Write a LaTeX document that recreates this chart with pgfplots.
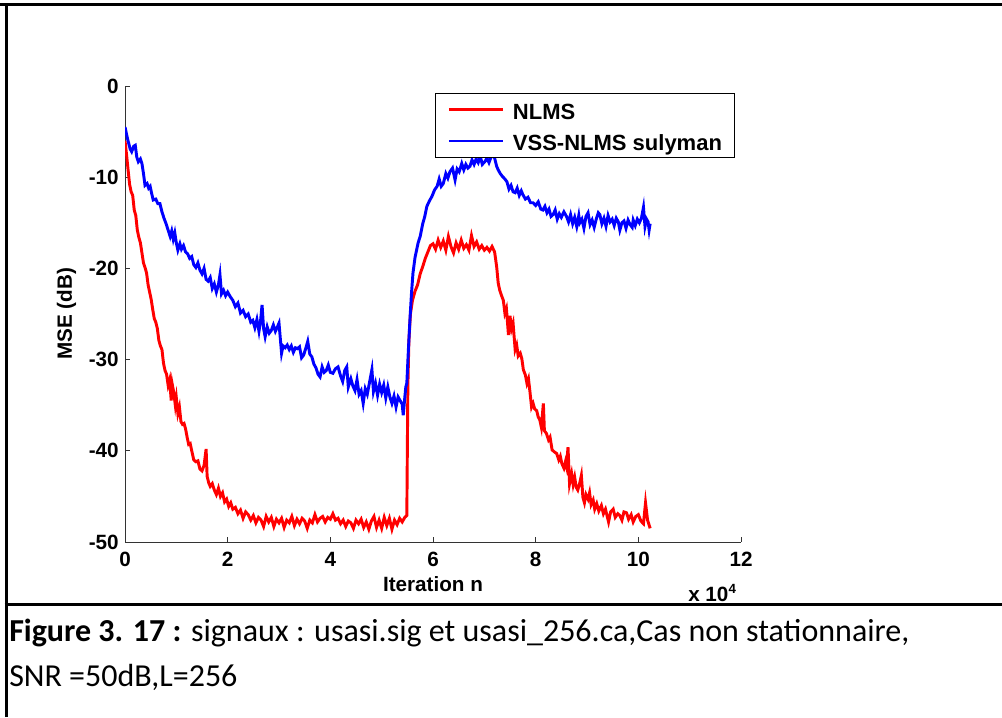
\documentclass[border=0pt]{standalone}
\usepackage{fontspec}
\setmainfont{Carlito}
\newfontfamily\arial{Liberation Sans}
\usepackage{pgfplots}
\usepackage{pgfplotstable}
\pgfplotsset{compat=1.18}

\pgfplotstableread{
x y
0 -6.0
0.03 -7.5
0.06 -9.2
0.09 -10.8
0.12 -11.6
0.15 -12.0
0.18 -13.6
0.21 -14.2
0.24 -15.8
0.27 -16.6
0.30 -17.2
0.33 -18.3
0.36 -19.4
0.39 -19.9
0.42 -20.5
0.45 -21.8
0.48 -22.6
0.51 -23.4
0.54 -24.5
0.57 -25.5
0.60 -25.9
0.63 -26.6
0.66 -27.9
0.69 -28.5
0.72 -28.9
0.75 -30.4
0.78 -31.2
0.81 -31.6
0.84 -32.8
0.87 -32.2
0.90 -34.5
0.92 -32.7
0.95 -33.6
0.98 -35.0
1.00 -34.2
1.03 -35.9
1.06 -35.2
1.09 -36.8
1.12 -37.1
1.15 -37.0
1.18 -37.6
1.21 -38.5
1.24 -39.3
1.27 -39.2
1.30 -40.0
1.34 -41.0
1.38 -41.2
1.42 -41.1
1.46 -42.0
1.50 -42.2
1.54 -41.6
1.58 -39.8
1.60 -42.8
1.63 -43.5
1.66 -43.9
1.70 -43.6
1.74 -44.3
1.78 -44.8
1.82 -44.1
1.86 -45.0
1.90 -44.6
1.94 -45.6
1.98 -45.3
2.02 -46.1
2.06 -45.7
2.10 -46.4
2.15 -46.2
2.20 -46.9
2.25 -46.5
2.30 -47.4
2.35 -46.7
2.40 -47.0
2.45 -47.6
2.50 -47.1
2.55 -47.9
2.60 -47.3
2.65 -47.6
2.70 -48.3
2.75 -47.2
2.80 -47.8
2.85 -47.3
2.90 -48.3
2.95 -47.5
3.00 -47.9
3.05 -47.4
3.10 -48.4
3.15 -47.6
3.20 -47.9
3.25 -47.2
3.30 -48.2
3.35 -47.5
3.40 -48.0
3.45 -47.4
3.50 -47.7
3.55 -48.5
3.60 -47.6
3.65 -47.9
3.70 -47.0
3.75 -47.8
3.80 -47.4
3.85 -47.2
3.90 -47.8
3.95 -47.3
4.00 -47.5
4.05 -46.9
4.10 -47.6
4.15 -47.4
4.20 -48.0
4.25 -47.6
4.30 -48.3
4.35 -47.7
4.40 -47.9
4.45 -48.5
4.50 -47.6
4.55 -48.0
4.60 -47.5
4.65 -48.4
4.70 -47.8
4.75 -48.6
4.80 -47.7
4.85 -47.2
4.90 -48.4
4.95 -47.6
5.00 -48.5
5.05 -47.3
5.10 -48.2
5.15 -47.4
5.20 -48.6
5.25 -47.6
5.30 -48.1
5.35 -47.4
5.40 -47.8
5.45 -47.3
5.49 -47.1
5.50 -40.0
5.51 -33.0
5.53 -28.0
5.56 -25.0
5.60 -23.5
5.65 -22.5
5.70 -21.8
5.75 -20.6
5.80 -19.8
5.85 -18.9
5.90 -18.2
5.95 -17.5
6.00 -17.3
6.05 -17.9
6.10 -16.9
6.15 -17.7
6.20 -17.0
6.25 -18.0
6.30 -16.5
6.35 -17.6
6.40 -18.3
6.45 -17.2
6.50 -17.9
6.55 -16.9
6.60 -17.8
6.65 -17.4
6.70 -18.0
6.75 -16.4
6.80 -17.6
6.85 -17.1
6.90 -17.9
6.95 -17.5
7.00 -18.0
7.05 -17.7
7.10 -18.1
7.15 -17.6
7.20 -18.2
7.24 -19.8
7.27 -21.6
7.30 -22.4
7.33 -22.9
7.37 -23.5
7.40 -24.9
7.43 -24.4
7.47 -27.3
7.50 -25.2
7.53 -26.6
7.56 -26.0
7.60 -28.9
7.63 -28.4
7.66 -29.6
7.70 -29.3
7.73 -29.9
7.76 -31.1
7.80 -31.7
7.83 -32.6
7.86 -32.1
7.89 -33.6
7.92 -35.2
7.95 -34.8
7.98 -35.4
8.02 -35.6
8.05 -36.3
8.08 -36.6
8.11 -37.4
8.15 -34.8
8.17 -37.8
8.21 -38.1
8.25 -38.8
8.28 -38.5
8.32 -39.9
8.36 -40.1
8.41 -40.3
8.45 -41.0
8.48 -40.6
8.51 -41.4
8.55 -41.9
8.58 -41.2
8.60 -41.7
8.63 -39.6
8.66 -43.6
8.70 -42.5
8.73 -43.7
8.76 -42.9
8.79 -44.0
8.82 -44.3
8.86 -43.5
8.89 -42.7
8.92 -45.1
8.95 -45.7
8.98 -44.8
9.02 -45.3
9.05 -44.6
9.08 -45.9
9.12 -45.4
9.15 -46.4
9.19 -45.8
9.23 -46.6
9.28 -46.0
9.32 -46.9
9.36 -46.4
9.42 -47.8
9.46 -46.7
9.51 -46.4
9.55 -47.3
9.60 -46.9
9.64 -47.1
9.68 -47.6
9.72 -46.7
9.77 -46.8
9.81 -47.5
9.86 -47.0
9.90 -47.8
9.95 -47.2
10.00 -47.0
10.05 -47.7
10.10 -48.0
10.14 -45.7
10.18 -47.6
10.23 -48.5
}\nlms

\pgfplotstableread{
x y
0 -4.5
0.05 -5.8
0.10 -6.9
0.13 -7.2
0.17 -6.6
0.20 -6.5
0.23 -7.8
0.26 -8.3
0.30 -8.0
0.33 -8.5
0.36 -9.6
0.39 -10.9
0.43 -10.7
0.46 -11.2
0.49 -11.0
0.52 -11.8
0.55 -12.5
0.60 -12.4
0.64 -12.9
0.68 -12.9
0.72 -13.8
0.76 -14.5
0.80 -15.1
0.84 -15.8
0.88 -16.5
0.91 -15.9
0.94 -16.8
0.97 -16.1
1.00 -17.2
1.03 -18.0
1.07 -17.3
1.10 -17.9
1.14 -17.5
1.18 -18.2
1.22 -18.4
1.26 -18.9
1.30 -18.7
1.34 -19.6
1.38 -19.9
1.42 -19.4
1.46 -20.2
1.50 -20.6
1.54 -20.0
1.58 -21.2
1.62 -21.4
1.66 -21.0
1.70 -22.2
1.74 -21.7
1.78 -22.6
1.82 -21.8
1.85 -20.7
1.88 -22.8
1.92 -22.4
1.96 -23.0
2.00 -22.6
2.05 -23.1
2.10 -23.5
2.15 -24.2
2.20 -23.8
2.25 -24.9
2.30 -24.6
2.35 -25.3
2.40 -25.0
2.45 -25.9
2.49 -25.7
2.53 -26.5
2.57 -25.6
2.61 -26.9
2.64 -25.8
2.67 -24.0
2.70 -26.6
2.73 -27.5
2.77 -26.4
2.81 -27.1
2.85 -26.8
2.89 -26.2
2.93 -26.9
2.97 -26.4
3.00 -26.0
3.05 -29.3
3.08 -28.5
3.12 -28.7
3.16 -28.4
3.20 -28.9
3.24 -28.5
3.28 -29.2
3.32 -28.7
3.36 -28.8
3.40 -28.6
3.44 -29.8
3.48 -29.5
3.52 -28.8
3.56 -28.0
3.60 -29.4
3.64 -29.7
3.68 -30.5
3.72 -30.9
3.76 -31.6
3.80 -31.9
3.84 -30.8
3.88 -31.4
3.92 -31.2
3.96 -30.6
4.00 -31.4
4.05 -31.5
4.10 -31.0
4.15 -30.8
4.20 -31.8
4.24 -32.4
4.28 -31.2
4.32 -30.8
4.35 -33.0
4.40 -32.1
4.44 -32.9
4.48 -33.4
4.52 -32.2
4.56 -33.8
4.60 -33.4
4.64 -34.8
4.68 -33.2
4.72 -33.8
4.76 -32.6
4.81 -31.1
4.84 -33.5
4.88 -32.6
4.92 -33.9
4.96 -32.7
5.00 -33.6
5.04 -32.8
5.08 -34.2
5.12 -33.0
5.16 -34.1
5.20 -34.8
5.24 -34.0
5.28 -35.2
5.32 -34.1
5.36 -34.5
5.40 -34.9
5.42 -36.1
5.45 -34.2
5.47 -33.0
5.49 -32.6
5.52 -29.0
5.55 -25.7
5.58 -22.8
5.61 -20.5
5.65 -18.8
5.71 -17.2
5.75 -16.5
5.80 -15.1
5.84 -14.3
5.88 -13.2
5.93 -12.6
5.98 -12.1
6.03 -11.4
6.08 -11.0
6.12 -10.2
6.16 -11.0
6.20 -10.7
6.25 -9.6
6.29 -10.1
6.33 -9.4
6.38 -9.0
6.43 -10.3
6.47 -9.1
6.51 -9.4
6.56 -8.5
6.60 -9.2
6.64 -8.6
6.68 -9.0
6.72 -8.8
6.76 -8.1
6.80 -8.6
6.84 -8.0
6.88 -8.4
6.92 -7.7
6.96 -8.6
7.01 -8.3
7.05 -7.9
7.09 -8.4
7.13 -7.8
7.17 -7.5
7.20 -7.9
7.24 -8.8
7.27 -9.2
7.31 -9.6
7.35 -9.9
7.40 -10.2
7.44 -10.5
7.48 -11.3
7.52 -10.9
7.56 -11.6
7.60 -11.7
7.64 -11.2
7.68 -12.0
7.72 -11.5
7.75 -11.9
7.80 -12.4
7.85 -12.2
7.90 -12.8
7.95 -12.8
8.00 -13.1
8.05 -12.7
8.10 -13.5
8.14 -13.6
8.18 -13.2
8.22 -13.9
8.26 -13.5
8.30 -14.3
8.34 -14.1
8.38 -13.6
8.42 -14.6
8.46 -14.0
8.50 -14.4
8.55 -13.8
8.60 -14.3
8.64 -14.9
8.68 -14.1
8.72 -15.1
8.76 -14.4
8.80 -15.4
8.84 -14.2
8.86 -15.0
8.90 -14.6
8.94 -15.6
8.98 -14.3
9.02 -13.9
9.06 -15.2
9.10 -14.7
9.14 -15.5
9.18 -14.6
9.22 -13.9
9.25 -14.1
9.29 -15.1
9.33 -14.5
9.37 -15.4
9.41 -14.2
9.45 -14.9
9.49 -14.6
9.53 -15.3
9.57 -14.5
9.61 -14.9
9.64 -15.8
9.68 -15.0
9.72 -14.8
9.76 -15.6
9.80 -14.7
9.84 -15.2
9.88 -15.5
9.90 -14.7
9.94 -15.3
9.98 -14.6
10.02 -15.0
10.06 -14.5
10.10 -13.3
10.13 -15.4
10.16 -14.6
10.19 -14.9
10.21 -15.8
10.23 -15.1
}\vss

\begin{document}
\begin{tikzpicture}
\path[use as bounding box] (0,0) rectangle (751.5pt,537.75pt);
\begin{axis}[
  at={(93.75pt,131.25pt)}, anchor=south west,
  scale only axis, width=462pt, height=342pt,
  xmin=0, xmax=12, ymin=-50, ymax=0,
  axis lines=left,
  axis line style={-, line width=0.6pt, black!80},
  tick align=inside,
  major tick length=3.5pt,
  tick style={line width=0.6pt, black!80},
  xtick={0,2,...,12}, ytick={-50,-40,...,0},
  /pgf/number format/assume math mode=true,
  ticklabel style={font=\arial\bfseries\fontsize{15.5}{18}\selectfont},
  xticklabel style={anchor=base, inner sep=0pt, yshift=-18.75pt},
  yticklabel style={anchor=east, inner sep=0pt, xshift=-4.5pt},
  xlabel={Iteration n},
  xlabel style={at={(axis description cs:0.5,0)}, anchor=base, inner sep=0pt, yshift=-37.5pt, font=\arial\bfseries\fontsize{15.5}{18}\selectfont},
  ylabel={MSE (dB)},
  ylabel style={at={(axis description cs:-0.095,0.5)}, anchor=center, inner sep=0pt, font=\arial\bfseries\fontsize{15.5}{18}\selectfont},
  legend cell align=left,
  legend image code/.code={\draw[#1, line width=2.2pt] (0pt,0pt) -- (41pt,0pt);},
  legend style={at={(rel axis cs:0.503,0.985)}, anchor=north west,
    draw=black, line width=0.75pt, inner xsep=9pt, inner ysep=3pt,
    row sep=5pt, column sep=6pt,
    nodes={inner xsep=0pt, inner ysep=0pt, text height=16.5pt, text depth=2pt},
    font=\arial\bfseries\fontsize{16.5}{19}\selectfont},
]
\addplot[red, line width=2.2pt] table[x=x, y=y] {\nlms};
\addlegendentry{NLMS}
\addplot[blue, line width=2.2pt] table[x=x, y=y] {\vss};
\addlegendentry{VSS-NLMS sulyman}
\end{axis}
% x 10^4 multiplier
\node[anchor=base west, inner sep=0pt, font=\arial\bfseries\fontsize{15.5}{18}\selectfont] at (516pt,86.25pt) {x 10\raisebox{0.75ex}{\fontsize{10}{10}\selectfont 4}};
% frame
\draw[line width=2.25pt] (0pt,534.4pt) -- (751.5pt,534.4pt);
\draw[line width=2.25pt] (4.5pt,0pt) -- (4.5pt,535.5pt);
\draw[line width=2.25pt] (3.4pt,84pt) -- (751.5pt,84pt);
% caption
\node[anchor=base west, inner sep=0pt, font=\fontsize{24}{28}\selectfont] at (6.75pt,56.25pt) {\textbf{Figure 3. 17 :} signaux : usasi.sig et usasi\_256.ca,Cas non stationnaire,};
\node[anchor=base west, inner sep=0pt, font=\fontsize{24}{28}\selectfont] at (6.75pt,23.25pt) {SNR =50dB,L=256};
\end{tikzpicture}
\end{document}
